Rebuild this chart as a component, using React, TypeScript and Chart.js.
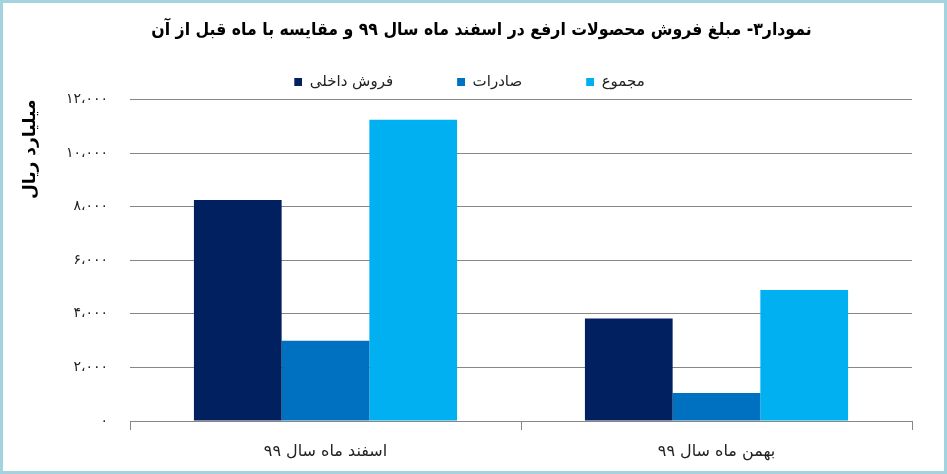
import { useEffect, useRef } from 'react';
import Chart from 'chart.js/auto';

// values (billion rials)
const categories = ['اسفند ماه سال ۹۹', 'بهمن ماه سال ۹۹'];
const domesticSales = [8250, 3830];
const exportSales = [3000, 1045];
const totalSales = [11240, 4885];
const seriesNames = ['فروش داخلی', 'صادرات', 'مجموع'];
const yTicks = [0, 2000, 4000, 6000, 8000, 10000, 12000];

const titleText = 'نمودار۳- مبلغ فروش محصولات ارفع در اسفند ماه سال ۹۹ و مقایسه با ماه قبل از آن';
const yTitle = 'میلیارد ریال';

const colors = ['#002060', '#0070C0', '#00B0F0'];
const fontFamily = '"DejaVu Sans", sans-serif';
const titleFamily = '"DejaVu Sans Condensed", "DejaVu Sans", sans-serif';
const SWATCH_W = 62;

const faDigits = '۰۱۲۳۴۵۶۷۸۹';
const toPersian = (v: number) =>
  String(v)
    .replace(/\B(?=(\d{3})+(?!\d))/g, '،')
    .replace(/\d/g, (d) => faDigits[+d]);

// legend swatch: blank space then an 8px square at the right end
const makeSwatch = (color: string) => {
  const c = document.createElement('canvas');
  c.width = SWATCH_W;
  c.height = 8;
  const g = c.getContext('2d')!;
  g.fillStyle = color;
  g.fillRect(SWATCH_W - 8, 0, 8, 8);
  return c;
};

const nudge = {
  id: 'nudge',
  afterLayout(chart: any) {
    const t = chart.titleBlock;
    if (t) { t.left += 19; t.right += 19; }
    const l = chart.legend;
    if (l) { l.left -= 20; l.right -= 20; }
  },
};

const SalesChart = () => {
  const canvasRef = useRef<HTMLCanvasElement | null>(null);

  useEffect(() => {
    if (!canvasRef.current) return;
    const swatches = colors.map(makeSwatch);
    const values = [domesticSales, exportSales, totalSales];

    const chart = new Chart(canvasRef.current, {
      type: 'bar',
      data: {
        labels: categories,
        datasets: values.map((data, i) => ({
          label: seriesNames[i],
          data,
          backgroundColor: colors[i],
          borderWidth: 0,
          categoryPercentage: 0.673,
          barPercentage: 1.0,
        })),
      },
      options: {
        animation: false,
        responsive: true,
        maintainAspectRatio: false,
        layout: { padding: { left: 10, right: 32, top: 0, bottom: 0 } },
        plugins: {
          title: {
            display: true,
            text: titleText,
            color: '#000',
            font: { family: titleFamily, size: 17.5, weight: 'bold' },
            padding: { top: 16.5, bottom: 24 },
          },
          legend: {
            display: true,
            position: 'top',
            labels: {
              color: '#222',
              font: { family: fontFamily, size: 15 },
              usePointStyle: true,
              pointStyleWidth: SWATCH_W,
              padding: 10,
              generateLabels: (c: any) =>
                Chart.defaults.plugins.legend.labels
                  .generateLabels(c)
                  .map((item: any, i: number) => ({ ...item, pointStyle: swatches[i] })),
            },
          },
          tooltip: { enabled: false },
        },
        scales: {
          x: {
            afterFit: (s: any) => { s.height = 50; },
            grid: {
              display: true,
              drawOnChartArea: false,
              drawTicks: true,
              tickLength: 9,
              color: '#878787',
            },
            border: { display: true, color: '#878787' },
            ticks: {
              color: '#222',
              font: { family: fontFamily, size: 16 },
              padding: 12,
            },
          },
          y: {
            min: 0,
            max: 12000,
            afterFit: (s: any) => { s.width = 117; },
            afterBuildTicks: (s: any) => { s.ticks = yTicks.map((v) => ({ value: v })); },
            grid: { color: '#878787', drawTicks: false },
            border: { display: false },
            ticks: {
              color: '#222',
              font: { family: fontFamily, size: 14 },
              padding: 22,
              callback: (v: any) => toPersian(Number(v)),
            },
            title: {
              display: true,
              text: yTitle,
              align: 'end',
              color: '#000',
              font: { family: fontFamily, size: 17, weight: 'bold' },
              padding: { top: 7, bottom: 0 },
            },
          },
        },
      },
      plugins: [nudge],
    });

    return () => {
      chart.destroy();
    };
  }, []);

  return (
    <div
      style={{
        position: 'absolute',
        left: 0,
        top: 0,
        width: 947,
        height: 474,
        boxSizing: 'border-box',
        border: '3px solid #a3d3de',
        background: '#fff',
      }}
    >
      <div style={{ position: 'relative', width: 941, height: 468 }}>
        <canvas ref={canvasRef}></canvas>
      </div>
    </div>
  );
};

export default function App() {
  return <SalesChart />;
}
